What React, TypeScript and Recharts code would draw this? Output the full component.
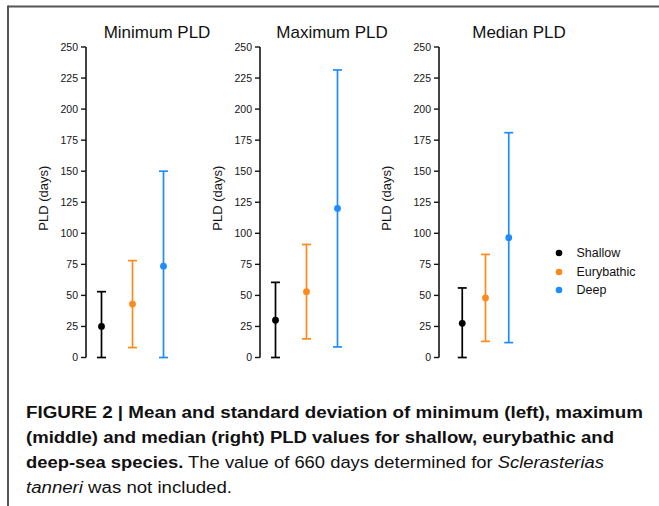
import { ComposedChart, Scatter, ErrorBar, XAxis, YAxis } from 'recharts'

const groups = ['Shallow', 'Eurybathic', 'Deep']
const colors = ['#000000', '#ff8a1c', '#1e8cff']
const yTicks = [0, 25, 50, 75, 100, 125, 150, 175, 200, 225, 250]

// mean and standard deviation per group
const minMean = [25, 43, 73.5]
const minSd = [28, 35, 76.5]
const maxMean = [30, 53, 120]
const maxSd = [30.5, 38, 111.5]
const medMean = [27.5, 48, 96.5]
const medSd = [28.5, 35, 84.5]

const font = "'Liberation Sans', Arial, Helvetica, sans-serif"
const ink = '#141414'

function seriesRows(mean: number[], sd: number[], i: number) {
  // lower whisker is clipped at zero days
  return [{ x: i + 1, y: mean[i], err: [Math.min(mean[i], sd[i]), sd[i]] }]
}

function GroupLegend() {
  return (
    <ul
      style={{
        position: 'absolute',
        left: 555,
        top: 244,
        listStyle: 'none',
        margin: 0,
        padding: 0,
        fontFamily: font,
      }}
    >
      {groups.map((g, i) => (
        <li key={g} style={{ display: 'flex', alignItems: 'center', height: 18.5, fontSize: 12.5, color: '#111' }}>
          <svg width={8} height={8} style={{ marginRight: 13.5 }}>
            <circle cx={4} cy={4} r={3.3} fill={colors[i]} />
          </svg>
          {g}
        </li>
      ))}
    </ul>
  )
}

type PanelProps = {
  left: number
  mean: number[]
  sd: number[]
  xDomain: [number, number]
  labelDx: number
}

function Panel({ left, mean, sd, xDomain, labelDx }: PanelProps) {
  return (
    <div style={{ position: 'absolute', left: left - 13, top: 0 }}>
      <ComposedChart width={173} height={370} margin={{ top: 47, right: 11, bottom: 12.5, left: 13 }}>
        <XAxis type="number" dataKey="x" domain={xDomain} hide />
        <YAxis
          type="number"
          dataKey="y"
          domain={[0, 250]}
          ticks={yTicks}
          interval={0}
          width={56}
          axisLine={{ stroke: ink, strokeWidth: 1.6 }}
          tickLine={{ stroke: ink, strokeWidth: 1.4 }}
          tickSize={5}
          tickMargin={3}
          tick={{ fill: ink, fontSize: 10.5, fontFamily: font }}
          label={(p: any) => {
            const vb = p.viewBox || {}
            const cx = vb.x + labelDx
            const cy = vb.y + vb.height / 2 - 4
            return (
              <text
                x={cx}
                y={cy}
                transform={`rotate(-90 ${cx} ${cy})`}
                textAnchor="middle"
                dominantBaseline="central"
                fontSize={13}
                fontFamily={font}
                fill={ink}
              >
                PLD (days)
              </text>
            )
          }}
        />
        {groups.map((g, i) => (
          <Scatter
            key={g}
            name={g}
            data={seriesRows(mean, sd, i)}
            fill={colors[i]}
            shape={(p: any) => <circle cx={p.cx} cy={p.cy} r={3.4} fill={colors[i]} />}
            isAnimationActive={false}
          >
            <ErrorBar
              dataKey="err"
              direction="y"
              width={4.5}
              stroke={colors[i]}
              strokeWidth={1.7}
              isAnimationActive={false}
            />
          </Scatter>
        ))}
      </ComposedChart>
    </div>
  )
}

const captionLines = [
  { y: 418, len: 617 },
  { y: 443, len: 588 },
  { y: 468, len: 578 },
  { y: 493, len: 206 },
]

export default function App() {
  return (
    <div
      style={{
        position: 'absolute',
        left: 0,
        top: 0,
        width: 659,
        height: 506,
        background: '#fff',
        overflow: 'hidden',
        fontFamily: font,
      }}
    >
      <svg width={659} height={506} style={{ position: 'absolute', left: 0, top: 0 }}>
        <line x1={8} y1={6.5} x2={659} y2={6.5} stroke="#555" strokeWidth={2} />
        <line x1={8} y1={5.5} x2={8} y2={506} stroke="#555" strokeWidth={2} />
        <g fontFamily={font} fontSize={17} fill="#111" textAnchor="middle">
          <text x={157} y={37.5}>Minimum PLD</text>
          <text x={332} y={37.5}>Maximum PLD</text>
          <text x={519} y={37.5}>Median PLD</text>
        </g>
        <g fontFamily={font} fontSize={16} fill="#111">
          <text x={26} y={captionLines[0].y} textLength={captionLines[0].len} lengthAdjust="spacingAndGlyphs" fontWeight="bold">
            FIGURE 2 | Mean and standard deviation of minimum (left), maximum
          </text>
          <text x={26} y={captionLines[1].y} textLength={captionLines[1].len} lengthAdjust="spacingAndGlyphs" fontWeight="bold">
            (middle) and median (right) PLD values for shallow, eurybathic and
          </text>
          <text x={26} y={captionLines[2].y} textLength={captionLines[2].len} lengthAdjust="spacingAndGlyphs">
            <tspan fontWeight="bold">deep-sea species.</tspan> The value of 660 days determined for{' '}
            <tspan fontStyle="italic">Sclerasterias</tspan>
          </text>
          <text x={26} y={captionLines[3].y} textLength={captionLines[3].len} lengthAdjust="spacingAndGlyphs">
            <tspan fontStyle="italic">tanneri</tspan> was not included.
          </text>
        </g>
      </svg>
      <Panel left={30} mean={minMean} sd={minSd} xDomain={[0.5, 3.5]} labelDx={13} />
      <Panel left={204} mean={maxMean} sd={maxSd} xDomain={[0.5, 3.5]} labelDx={13} />
      <Panel left={383} mean={medMean} sd={medSd} xDomain={[0, 4]} labelDx={3} />
      <GroupLegend />
    </div>
  )
}
